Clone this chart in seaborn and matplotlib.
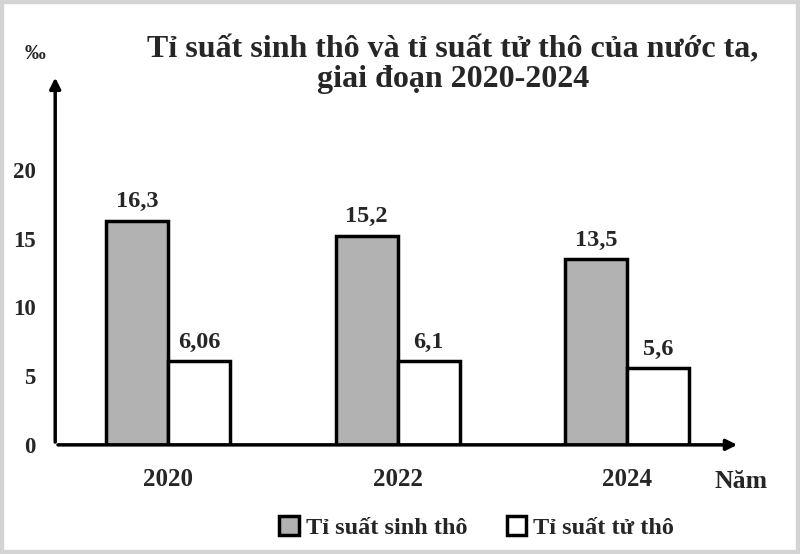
import pandas as pd
import seaborn as sns
import matplotlib.pyplot as plt
from matplotlib.patches import Rectangle

years = ["2020", "2022", "2024"]
sinh = [16.3, 15.2, 13.5]
tu = [6.06, 6.1, 5.6]
series = ["Tỉ suất sinh thô", "Tỉ suất tử thô"]

df = pd.DataFrame({
    "Năm": years * 2,
    "Giá trị": sinh + tu,
    "Loại": [series[0]] * 3 + [series[1]] * 3,
})

sns.set_style("white")
plt.rcParams["font.family"] = ["Liberation Serif", "DejaVu Serif"]
plt.rcParams["font.weight"] = "bold"

fig = plt.figure(figsize=(8, 5.54), dpi=100)
ax = fig.add_axes([0.069, 0.197, 0.856, 0.668])

sns.barplot(data=df, x="Năm", y="Giá trị", hue="Loại", ax=ax,
            palette=["#b2b2b2", "white"], width=0.54,
            edgecolor="black", linewidth=2.5, saturation=1)

# data labels
for cont in ax.containers:
    labels = [("%g" % b.get_height()).replace(".", ",") for b in cont]
    ax.bar_label(cont, labels=labels, padding=6, fontsize=17.5, fontweight="bold")

ax.set_xlim(-0.49, 2.49)
ax.set_ylim(0, 26.9)
ax.set_yticks([0, 5, 10, 15, 20])
ax.tick_params(axis="y", length=4, width=1, direction="out", labelsize=16.5, pad=10)
ax.tick_params(axis="x", length=0, labelsize=18, pad=17)
for lab in ax.get_xticklabels() + ax.get_yticklabels():
    lab.set_fontweight("bold")
ax.set_xlabel("")
ax.set_ylabel("")
for s in ax.spines.values():
    s.set_visible(False)

# axes with arrows
ax.annotate("", xy=(0, 1), xytext=(0, 0), xycoords="axes fraction",
            arrowprops=dict(arrowstyle="-|>", lw=2.5, color="black", mutation_scale=16))
ax.annotate("", xy=(1, 0), xytext=(0, 0), xycoords="axes fraction",
            arrowprops=dict(arrowstyle="-|>", lw=2.5, color="black", mutation_scale=16))

fig.text(0.044, 0.903, "‰", fontsize=15, fontweight="bold", ha="center", va="center")
fig.text(0.926, 0.131, "Năm", fontsize=18.5, fontweight="bold", ha="center", va="center")
fig.text(0.566, 0.883, "Tỉ suất sinh thô và tỉ suất tử thô của nước ta,\ngiai đoạn 2020-2024",
         fontsize=23, fontweight="bold", ha="center", va="center", linespacing=1.0)

handles, _ = ax.get_legend_handles_labels()
ax.legend(handles, series, loc="center", bbox_to_anchor=(0.596, 0.048),
          bbox_transform=fig.transFigure, ncol=2, frameon=False,
          handlelength=0.8, handleheight=0.8, handletextpad=0.3, columnspacing=1.6,
          prop={"size": 17.5, "weight": "bold"})

fig.patches.append(Rectangle((0, 0), 1, 1, transform=fig.transFigure, fill=False,
                             edgecolor="#d4d4d4", linewidth=6))

fig.savefig("out.png", dpi=100)
